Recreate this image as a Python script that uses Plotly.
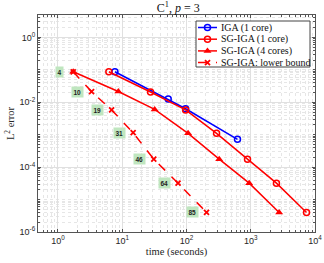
import math
import plotly.graph_objects as go

# ---- data ----
iga_time = [7.7, 52, 97, 622]
iga_err = [0.087, 0.0125, 6.3e-3, 7.2e-4]

sg1_time = [6.2, 27.6, 97, 294, 891, 2512, 7380]
sg1_err = [0.087, 0.0207, 5.8e-3, 1.1e-3, 1.76e-4, 3.2e-5, 4.0e-6]

sg4_time = [1.73, 8.7, 32, 106, 323, 946, 2767]
sg4_err = [0.087, 0.0215, 6.0e-3, 1.1e-3, 1.76e-4, 3.2e-5, 4.0e-6]

lb_time = [1.73, 3.34, 6.84, 14.8, 31, 74, 205]
lb_err = [0.087, 0.0212, 5.8e-3, 1.15e-3, 1.76e-4, 3.2e-5, 4.0e-6]
lb_labels = ["4", "10", "19", "31", "46", "64", "85"]

series_names = ["IGA (1 core)", "SG-IGA (1 core)", "SG-IGA (4 cores)", "SG-IGA: lower bound"]

x_tickvals = [1, 10, 100, 1000, 10000]
x_ticktext = ["10<sup>0</sup>", "10<sup>1</sup>", "10<sup>2</sup>", "10<sup>3</sup>", "10<sup>4</sup>"]
y_tickvals = [1, 1e-2, 1e-4, 1e-6]
y_ticktext = ["10<sup>0</sup>", "10<sup>-2</sup>", "10<sup>-4</sup>", "10<sup>-6</sup>"]

BLUE = "#0000FF"
RED = "#FF0000"
SERIF = "Liberation Serif"
SANS = "Liberation Sans"

styles = [
    dict(line=dict(color=BLUE, width=1.5),
         marker=dict(symbol="circle-open", size=6, color=BLUE, line=dict(width=1.5))),
    dict(line=dict(color=RED, width=1.5),
         marker=dict(symbol="circle-open", size=6, color=RED, line=dict(width=1.5))),
    dict(line=dict(color=RED, width=1.5),
         marker=dict(symbol="triangle-up", size=7, color=RED)),
    dict(line=dict(color=RED, width=1.5, dash="dash"),
         marker=dict(symbol="x-thin-open", size=5, color=RED, line=dict(width=1.8, color=RED))),
]
datasets = [(iga_time, iga_err), (sg1_time, sg1_err), (sg4_time, sg4_err), (lb_time, lb_err)]

fig = go.Figure()
for (t, e), name, st in zip(datasets, series_names, styles):
    fig.add_trace(go.Scatter(x=t, y=e, mode="lines+markers", name=name,
                             showlegend=False, **st))

for t, e, lab in zip(lb_time, lb_err, lb_labels):
    fig.add_annotation(x=math.log10(t), y=math.log10(e), xref="x", yref="y",
                       text="<b>" + lab + "</b>",
                       showarrow=False, xanchor="center", yanchor="middle", xshift=-14,
                       font=dict(family=SANS, size=6.5, color="#222222"),
                       bgcolor="#bfe6bf", borderpad=1.5)

# ---- legend drawn on a pixel-like overlay axis ----
L, R, T, B = 38, 315, 15, 232
leg_left, leg_right, leg_top, leg_bot = 196, 310, 21, 67
row_y0, row_dy = 27.5, 11.7

fig.add_trace(go.Scatter(x=[leg_left, leg_right, leg_right, leg_left, leg_left],
                         y=[leg_top, leg_top, leg_bot, leg_bot, leg_top],
                         xaxis="x2", yaxis="y2", mode="lines", fill="toself",
                         fillcolor="white", line=dict(color="#444444", width=1),
                         showlegend=False, hoverinfo="skip"))
for i, (name, st) in enumerate(zip(series_names, styles)):
    yy = row_y0 + i * row_dy
    fig.add_trace(go.Scatter(x=[198, 207.5, 217], y=[yy, yy, yy], xaxis="x2", yaxis="y2",
                             mode="lines", line=st["line"], showlegend=False, hoverinfo="skip"))
    fig.add_trace(go.Scatter(x=[207.5], y=[yy], xaxis="x2", yaxis="y2",
                             mode="markers", marker=st["marker"], showlegend=False, hoverinfo="skip"))
    fig.add_annotation(x=219, y=yy, xref="x2", yref="y2", text=name, showarrow=False,
                       xanchor="left", yanchor="middle",
                       font=dict(family=SERIF, size=10, color="#111111"))

axis_common = dict(
    type="log", showline=True, linecolor="#555555", linewidth=1, mirror="allticks",
    ticks="inside", ticklen=3, tickcolor="#555555", automargin=False,
    showgrid=True, gridcolor="#e0e0e0", gridwidth=1, zeroline=False,
    tickfont=dict(family=SANS, size=9, color="#262626"),
)
minor = dict(ticks="inside", ticklen=2, tickcolor="#555555",
             showgrid=True, gridcolor="#e6e6e6", griddash="dot", dtick="D1")

fig.update_layout(
    xaxis=dict(**axis_common, range=[-0.31, 4], tickvals=x_tickvals, ticktext=x_ticktext,
               minor=minor,
               title=dict(text="time (seconds)", font=dict(family=SERIF, size=10.5, color="#262626"),
                          standoff=2)),
    yaxis=dict(**axis_common, range=[-6, 0.69], tickvals=y_tickvals, ticktext=y_ticktext,
               minor=minor,
               title=dict(text="L<sup>2</sup> error", font=dict(family=SERIF, size=10.5, color="#262626"),
                          standoff=2)),
    xaxis2=dict(overlaying="x", range=[L, R], visible=False, showgrid=False, zeroline=False,
                automargin=False),
    yaxis2=dict(overlaying="y", range=[B, T], visible=False, showgrid=False, zeroline=False,
                automargin=False),
    width=324, height=263,
    margin=dict(l=L, r=324 - R, t=T, b=263 - B, autoexpand=False),
    paper_bgcolor="white", plot_bgcolor="white",
    title=dict(text="C<sup>1</sup>, <i>p</i> = 3", x=0.55, xanchor="center", y=0.985, yanchor="top",
               font=dict(family=SERIF, size=12, color="#111111")),
    showlegend=False,
)

fig.write_html("out.html", config={"displayModeBar": False, "staticPlot": True},
               post_script="document.body.style.margin='0';")
